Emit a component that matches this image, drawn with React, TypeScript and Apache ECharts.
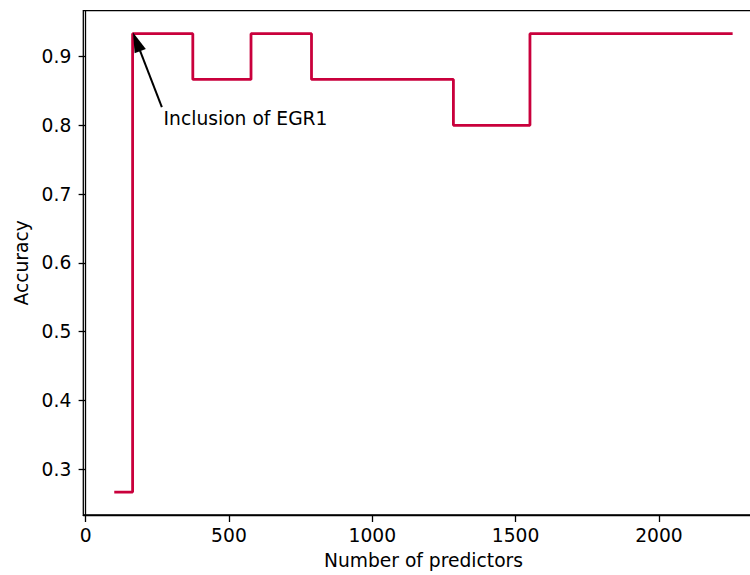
import React, { useEffect, useRef } from "react";
import * as echarts from "echarts";

const predictors = [100, 164, 374, 577, 788, 1283, 1550, 2257];
const accuracy = [0.2667, 0.9333, 0.8667, 0.9333, 0.8667, 0.8, 0.9333, 0.9333];
const xTicks = [0, 500, 1000, 1500, 2000];
const yTicks = [0.3, 0.4, 0.5, 0.6, 0.7, 0.8, 0.9];
const annotationText = "Inclusion of EGR1";
const annotationTextAt = [272, 0.8];
const arrowTail = [266, 0.8264];
const arrowHead = [178, 0.9214];

const FONT = "DejaVu Sans";
const FS = 18.7;

export default function App() {
  const ref = useRef<HTMLDivElement>(null);
  useEffect(() => {
    document.body.style.margin = "0";
    document.body.style.overflow = "hidden";
    document.documentElement.style.overflow = "hidden";
    const chart = echarts.init(ref.current!, undefined, { renderer: "svg" });
    const data = predictors.map((x, i) => [x, accuracy[i]]);
    chart.setOption({
      animation: false,
      grid: {
        left: 83.3,
        top: 10.7,
        bottom: 59.7,
        right: 0.4,
        show: true,
        borderColor: "#000",
        borderWidth: 1.3,
        backgroundColor: "transparent",
        containLabel: false,
      },
      xAxis: {
        type: "value",
        min: -8,
        max: 2365,
        name: "Number of predictors",
        nameLocation: "middle",
        nameGap: 36,
        nameTextStyle: { fontFamily: FONT, fontSize: FS, color: "#000" },
        splitLine: { show: false },
        axisLine: { show: true, lineStyle: { color: "#000", width: 1.3 } },
        axisTick: { show: true, inside: false, length: 7, customValues: xTicks, lineStyle: { color: "#000", width: 1.3 } },
        axisLabel: {
          customValues: xTicks,
          margin: 11,
          fontFamily: FONT,
          fontSize: FS,
          color: "#000",
          formatter: (v: number) => String(Math.round(v)),
        },
      },
      yAxis: {
        type: "value",
        min: 0.2333,
        max: 0.9667,
        name: "Accuracy",
        nameLocation: "middle",
        nameGap: 47,
        nameTextStyle: { fontFamily: FONT, fontSize: FS, color: "#000" },
        splitLine: { show: false },
        axisLine: { show: true, lineStyle: { color: "#000", width: 1.3 } },
        axisTick: { show: true, inside: false, length: 7, customValues: yTicks, lineStyle: { color: "#000", width: 1.3 } },
        axisLabel: {
          customValues: yTicks,
          margin: 12,
          fontFamily: FONT,
          fontSize: FS,
          color: "#000",
          formatter: (v: number) => v.toFixed(1),
        },
      },
      series: [
        {
          type: "line",
          step: "end",
          data,
          showSymbol: false,
          symbol: "none",
          lineStyle: { color: "#c9003c", width: 2.8 },
          markLine: {
            silent: true,
            animation: false,
            symbol: ["none", "path://M5,0L10,20L0,20Z"],
            symbolSize: [12, 20],
            lineStyle: { color: "#000", width: 2, type: "solid" },
            label: { show: false },
            data: [
              [
                { coord: arrowTail, symbol: "none" },
                { coord: arrowHead, itemStyle: { color: "#000" } },
              ],
            ],
          },
          markPoint: {
            silent: true,
            animation: false,
            data: [
              {
                coord: annotationTextAt,
                symbol: "circle",
                symbolSize: 0,
                itemStyle: { color: "transparent" },
                label: {
                  show: true,
                  position: "right",
                  distance: 0,
                  offset: [0, -7],
                  formatter: annotationText,
                  fontFamily: FONT,
                  fontSize: FS,
                  color: "#000",
                },
              },
            ],
          },
        },
      ],
    });
    return () => chart.dispose();
  }, []);
  return <div ref={ref} style={{ width: 764, height: 575 }} />;
}
